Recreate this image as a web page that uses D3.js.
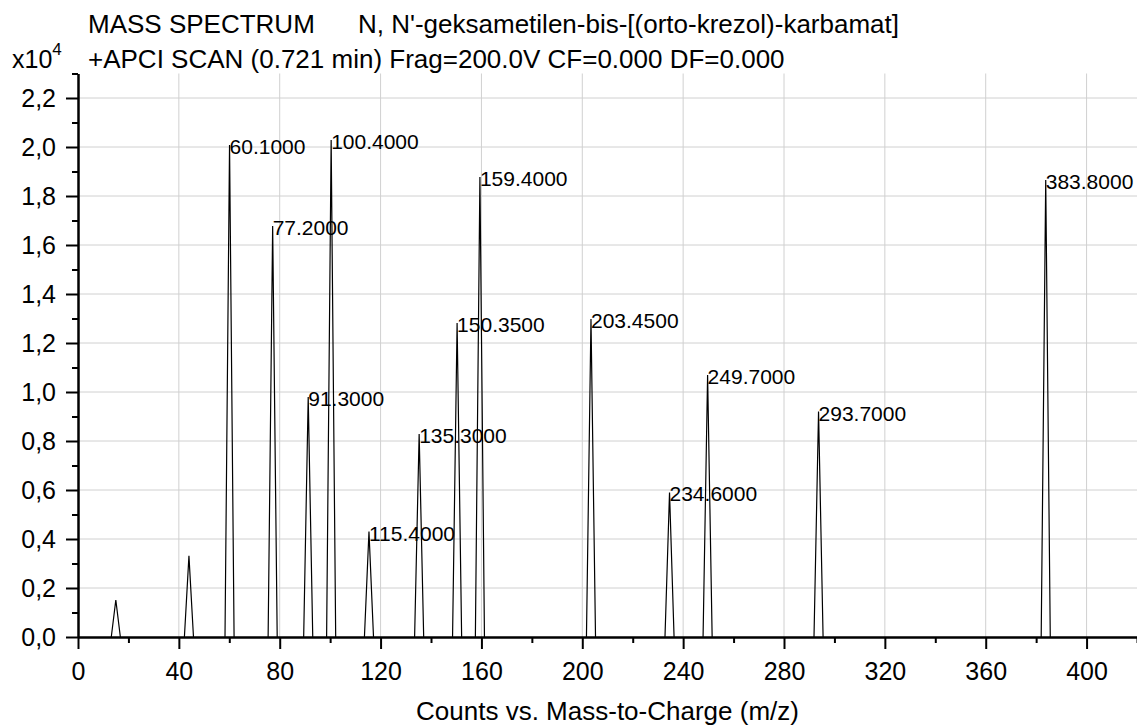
<!DOCTYPE html>
<html lang="en">
<head>
    <meta charset="UTF-8">
    <title>Mass Spectrum</title>
    <script src="https://d3js.org/d3.v7.min.js"></script>
    <style>
        body {
            margin: 0;
            padding: 0;
            background: #fff;
        }
        svg text {
            font-family: "Liberation Sans", Arial, sans-serif;
            fill: #000;
        }
    </style>
</head>
<body>
    <svg id="chart" width="1137" height="728"></svg>

    <script>
        // Peaks: m/z and counts
        const peakMz = [15, 44, 60.1, 77.2, 91.3, 100.4, 115.4, 135.3, 150.35, 159.4, 203.45, 234.6, 249.7, 293.7, 383.8];
        const peakCounts = [1510, 3310, 20080, 16780, 9800, 20290, 4300, 8290, 12820, 18780, 12980, 5900, 10690, 9200, 18650];
        const peakLabels = ["", "", "60.1000", "77.2000", "91.3000", "100.4000", "115.4000", "135.3000", "150.3500",
            "159.4000", "203.4500", "234.6000", "249.7000", "293.7000", "383.8000"];

        const xTicks = [0, 40, 80, 120, 160, 200, 240, 280, 320, 360, 400];
        const xMinorTicks = [20, 60, 100, 140, 180, 220, 260, 300, 340, 380, 420];
        const yTicks = [0, 2000, 4000, 6000, 8000, 10000, 12000, 14000, 16000, 18000, 20000, 22000];
        const yMinorTicks = [1000, 3000, 5000, 7000, 9000, 11000, 13000, 15000, 17000, 19000, 21000, 23000];

        const titleLine1a = "MASS SPECTRUM";
        const titleLine1b = "N, N'-geksametilen-bis-[(orto-krezol)-karbamat]";
        const titleLine2 = "+APCI SCAN (0.721 min) Frag=200.0V CF=0.000 DF=0.000";
        const xAxisTitle = "Counts vs. Mass-to-Charge (m/z)";

        const svg = d3.select("#chart");
        const width = 1137;

        const plotLeft = 78, plotBottom = 637, plotTop = 73.5;
        const peakHalfWidth = 1.8; // half of the base of each peak, in m/z units

        const x = d3.scaleLinear().domain([0, 420]).range([plotLeft, 1137]);
        const y = d3.scaleLinear().domain([0, 23000]).range([plotBottom, plotTop]);

        const fmtY = v => d3.format(".1f")(v / 10000).replace(".", ",");

        // gridlines
        const grid = svg.append("g").attr("stroke", "#d0d0d0").attr("stroke-width", 1);
        grid.selectAll(".gx")
            .data(xTicks.filter(d => d > 0))
            .join("line")
            .attr("x1", d => x(d)).attr("x2", d => x(d))
            .attr("y1", y(23000)).attr("y2", plotBottom);
        grid.selectAll(".gy")
            .data(yTicks.filter(d => d > 0))
            .join("line")
            .attr("x1", plotLeft).attr("x2", width)
            .attr("y1", d => y(d)).attr("y2", d => y(d));

        // peaks drawn as thin triangles
        const line = d3.line().x(d => x(d[0])).y(d => y(d[1]));
        const peaks = peakMz.map((m, i) => ({ mz: m, counts: peakCounts[i], label: peakLabels[i] }));

        svg.append("g")
            .selectAll("path")
            .data(peaks)
            .join("path")
            .attr("fill", "none")
            .attr("stroke", "#000")
            .attr("stroke-width", 1.2)
            .attr("d", d => line([[d.mz - peakHalfWidth, 0], [d.mz, d.counts], [d.mz + peakHalfWidth, 0]]));

        svg.append("g")
            .selectAll("text")
            .data(peaks.filter(d => d.label))
            .join("text")
            .attr("x", d => x(d.mz))
            .attr("y", d => y(d.counts) + 9)
            .attr("font-size", 21)
            .text(d => d.label);

        // X axis
        const xAxis = svg.append("g")
            .attr("transform", `translate(0, ${plotBottom})`)
            .call(d3.axisBottom(x).tickValues(xTicks).tickSize(12).tickSizeOuter(0).tickPadding(6));
        svg.append("g")
            .attr("transform", `translate(0, ${plotBottom})`)
            .call(d3.axisBottom(x).tickValues(xMinorTicks).tickSize(6).tickSizeOuter(0).tickFormat(""))
            .call(g => g.select(".domain").remove());
        xAxis.select(".domain").attr("stroke-width", 2.5);
        xAxis.selectAll("text").attr("font-size", 25).attr("dy", null).attr("y", 43);

        // Y axis
        const yAxis = svg.append("g")
            .attr("transform", `translate(${plotLeft}, 0)`)
            .call(d3.axisLeft(y).tickValues(yTicks).tickSize(12).tickSizeOuter(0).tickPadding(10).tickFormat(fmtY));
        svg.append("g")
            .attr("transform", `translate(${plotLeft}, 0)`)
            .call(d3.axisLeft(y).tickValues(yMinorTicks).tickSize(6).tickSizeOuter(0).tickFormat(""))
            .call(g => g.select(".domain").remove());
        yAxis.select(".domain").attr("stroke-width", 2.5);
        yAxis.selectAll("text").attr("font-size", 25).attr("dy", "0.35em");

        svg.selectAll(".tick line").attr("stroke-width", 2);
        svg.selectAll(".tick text").attr("font-family", "'Liberation Sans', Arial, sans-serif");

        // titles
        svg.append("text").attr("x", 88).attr("y", 33).attr("font-size", 26).text(titleLine1a);
        svg.append("text").attr("x", 358).attr("y", 33).attr("font-size", 26).text(titleLine1b);
        svg.append("text").attr("x", 88).attr("y", 68).attr("font-size", 26).text(titleLine2);

        const mult = svg.append("text").attr("x", 12).attr("y", 68).attr("font-size", 25);
        mult.append("tspan").text("x10");
        mult.append("tspan").attr("font-size", 17).attr("dy", -13).text("4");

        svg.append("text")
            .attr("x", (plotLeft + width) / 2)
            .attr("y", 720)
            .attr("text-anchor", "middle")
            .attr("font-size", 26)
            .text(xAxisTitle);
    </script>
</body>
</html>
